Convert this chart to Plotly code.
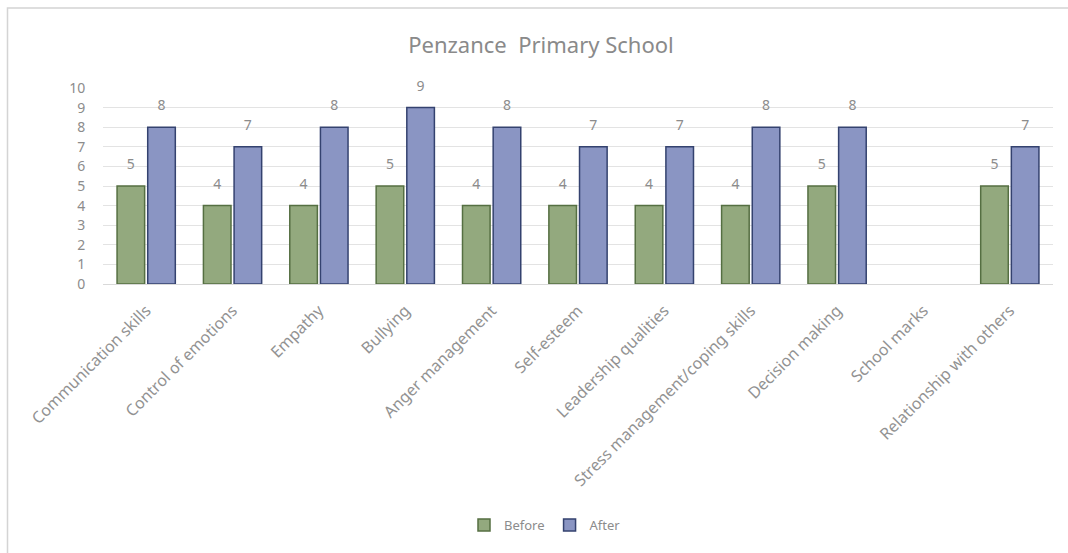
import plotly.graph_objects as go

categories = ["Communication skills", "Control of emotions", "Empathy", "Bullying",
              "Anger management", "Self-esteem", "Leadership qualities",
              "Stress management/coping skills", "Decision making", "School marks",
              "Relationship with others"]
before = [5, 4, 4, 5, 4, 4, 4, 4, 5, None, 5]
after = [8, 7, 8, 9, 8, 7, 7, 8, 8, None, 7]
y_ticks = list(range(0, 11))

font_family = "Noto Sans"
gray = "#8c8c8c"

fig = go.Figure()
series = [("Before", before, "#93a97e", "#556f42"),
          ("After", after, "#8a95c3", "#34426f")]
for name, vals, fill, edge in series:
    fig.add_trace(go.Bar(
        name=name, x=categories, y=vals, offsetgroup=name, alignmentgroup="g",
        marker=dict(color=fill, line=dict(color=edge, width=1.5)),
    ))
for name, vals, fill, edge in series:
    fig.add_trace(go.Scatter(
        x=categories, y=vals, offsetgroup=name, alignmentgroup="g",
        mode="markers+text", text=[("" if v is None else str(v)) for v in vals],
        textposition="top center", cliponaxis=False, showlegend=False,
        marker=dict(size=20, color="rgba(0,0,0,0)"), hoverinfo="skip",
        textfont=dict(color=gray, size=14, family=font_family),
    ))

L, R, T, B = 103, 15, 88, 269
W, H = 1068, 553
pw, ph = W - L - R, H - T - B

def px(x):
    return (x - L) / pw

def py(y):
    return (H - B - y) / ph

fig.update_layout(
    width=W, height=H,
    margin=dict(l=L, r=R, t=T, b=B, pad=0),
    paper_bgcolor="white", plot_bgcolor="white",
    barmode="group", bargap=0.29, bargroupgap=0.1,
    scattermode="group", scattergap=0.29,
    font=dict(family=font_family, color=gray),
    title=dict(text="Penzance  Primary School", x=541 / W, xanchor="center",
               y=1 - 45 / H, yanchor="middle", xref="container", yref="container",
               font=dict(size=22, color="#8a8a8a", family=font_family)),
    xaxis=dict(tickangle=-45, tickfont=dict(size=16, color="#929292", family=font_family),
               showline=True, linecolor="#d9d9d9", linewidth=1, ticks="outside",
               ticklen=10, tickcolor="white", showgrid=False),
    yaxis=dict(range=[0, 10], tickvals=y_ticks, ticktext=[str(v) for v in y_ticks],
               tickfont=dict(size=14, color=gray, family=font_family),
               showgrid=True, gridcolor="#e3e3e3", gridwidth=1, zeroline=False,
               showline=False, ticks="outside", ticklen=14, tickcolor="white"),
    legend=dict(orientation="h", x=px(545), xanchor="center", y=py(525), yanchor="middle",
                font=dict(size=13, color=gray, family=font_family),
                itemwidth=30, traceorder="normal"),
    showlegend=True,
    shapes=[dict(type="rect", xref="paper", yref="paper",
                 x0=px(7.5), x1=px(1080), y0=py(8), y1=py(570),
                 line=dict(color="#d4d4d4", width=1.5), fillcolor="rgba(0,0,0,0)",
                 layer="below")],
)

fig.write_html("out.html")
